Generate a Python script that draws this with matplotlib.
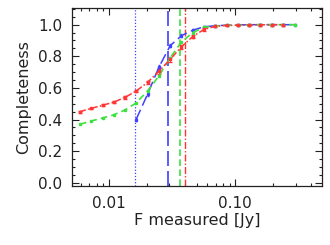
import matplotlib
matplotlib.use("Agg")
import matplotlib.pyplot as plt
from matplotlib.ticker import FixedLocator, NullFormatter, MultipleLocator, LogLocator

# ---- data ----
x_red = [0.0059, 0.0072, 0.0089, 0.0109, 0.0134, 0.0164, 0.0202, 0.0248, 0.0305, 0.0374,
         0.046, 0.0565, 0.0694, 0.0853, 0.105, 0.129, 0.158, 0.195, 0.239]
y_red = [0.45, 0.47, 0.49, 0.51, 0.54, 0.58, 0.635, 0.705, 0.78, 0.86,
         0.925, 0.97, 0.99, 0.995, 0.997, 0.998, 0.999, 1.0, 1.0]
e_red = [0.006, 0.006, 0.006, 0.006, 0.007, 0.008, 0.010, 0.014, 0.014, 0.014,
         0.012, 0.008, 0.006, 0.005, 0.005, 0.006, 0.006, 0.006, 0.006]

x_green = [0.0059, 0.0072, 0.0089, 0.0109, 0.0134, 0.0164, 0.0202, 0.0248, 0.0305, 0.0374,
           0.046, 0.0565, 0.0694, 0.0853, 0.105, 0.129, 0.158, 0.195, 0.239, 0.294]
y_green = [0.37, 0.39, 0.41, 0.43, 0.46, 0.505, 0.58, 0.675, 0.79, 0.89,
           0.95, 0.983, 0.992, 0.996, 0.998, 0.999, 1.0, 1.0, 1.0, 1.0]

x_blue = [0.0164, 0.0202, 0.0248, 0.0305, 0.0374, 0.046, 0.0565, 0.0694, 0.0853,
          0.105, 0.129, 0.158, 0.195, 0.239, 0.294]
y_blue = [0.40, 0.56, 0.73, 0.867, 0.93, 0.965, 0.987, 0.993, 0.997,
          0.999, 1.0, 1.0, 1.0, 1.0, 1.0]
e_blue = [0.008, 0.010, 0.014, 0.010, 0.008, 0.006, 0.004, 0.003, 0.002,
          0.002, 0.002, 0.002, 0.002, 0.002, 0.002]

# vertical limit lines
vl_blue_dot = 0.0162
vl_blue_dash = 0.0292
vl_green = 0.0367
vl_red = 0.0403

RED = "#ff3535"
GREEN = "#3ee03e"
BLUE = "#4040ff"

fig = plt.figure(figsize=(3.30, 2.45), dpi=100)
ax = fig.add_axes([0.218, 0.241, 0.758, 0.726])

ax.set_xscale("log")
ax.set_xlim(0.0051, 0.485)
ax.set_ylim(-0.02, 1.105)

ax.axvline(vl_blue_dot, color=BLUE, lw=0.9, ls=(0, (1, 1.5)))
ax.axvline(vl_blue_dash, color=BLUE, lw=1.2, ls=(0, (9, 3)))
ax.axvline(vl_green, color=GREEN, lw=1.2, ls=(0, (4, 2)))
ax.axvline(vl_red, color=RED, lw=1.0, ls=(0, (5, 1.5, 1, 1.5)))

ax.errorbar(x_blue, y_blue, yerr=e_blue, fmt="s", ms=1.4, color=BLUE, ls=(0, (7, 3)), lw=1.1,
            elinewidth=0.7, capsize=1.0)
ax.errorbar(x_green, y_green, fmt="s", ms=1.5, color=GREEN, ls=(0, (4, 2.5)), lw=1.2,
            elinewidth=0.7, capsize=1.0)
ax.errorbar(x_red, y_red, yerr=e_red, fmt="s", ms=1.5, color=RED, ls=(0, (4, 1.5, 1, 1.5)), lw=1.1,
            elinewidth=0.7, capsize=1.3)

TXT = "#222222"
ax.yaxis.set_major_locator(MultipleLocator(0.2))
ax.yaxis.set_minor_locator(MultipleLocator(0.05))
ax.set_yticks([0.0, 0.2, 0.4, 0.6, 0.8, 1.0])
ax.set_yticklabels(["0.0", "0.2", "0.4", "0.6", "0.8", "1.0"])
ax.xaxis.set_major_locator(FixedLocator([0.01, 0.1]))
ax.set_xticklabels(["0.01", "0.10"])
ax.xaxis.set_minor_locator(LogLocator(base=10, subs=range(2, 10)))
ax.xaxis.set_minor_formatter(NullFormatter())

ax.tick_params(which="both", direction="in", top=True, right=True, colors=TXT,
               labelsize=11, labelcolor=TXT, width=0.8)
ax.tick_params(which="major", length=5, pad=7)
ax.tick_params(which="minor", length=2.5)
for s in ax.spines.values():
    s.set_color(TXT)
    s.set_linewidth(0.9)

ax.set_xlabel("F measured [Jy]", fontsize=11.5, color=TXT, labelpad=2)
ax.set_ylabel("Completeness", fontsize=11.5, color=TXT, labelpad=5)

fig.savefig("out.png", dpi=100)
